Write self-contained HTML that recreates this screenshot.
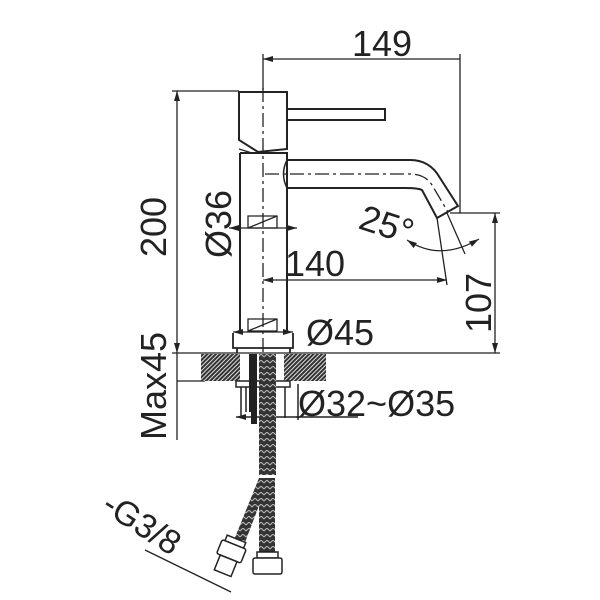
<!DOCTYPE html>
<html><head><style>body{margin:0;background:#fff}svg{display:block}text{font-family:"Liberation Sans",sans-serif;fill:#222}</style></head>
<body>
<svg width="600" height="600" viewBox="0 0 600 600" xmlns="http://www.w3.org/2000/svg">
<defs>
<pattern id="h" width="3" height="3" patternUnits="userSpaceOnUse" patternTransform="rotate(45)"><rect width="3" height="3" fill="#ddd"/><rect width="2" height="3" fill="#333"/></pattern>
<pattern id="b" width="6" height="6" patternUnits="userSpaceOnUse"><rect width="6" height="6" fill="#333"/><path d="M0 3 L3 0 L6 3" stroke="#bbb" stroke-width="1" fill="none"/></pattern>
<marker id="a" markerWidth="10" markerHeight="6" refX="10" refY="3" orient="auto-start-reverse" markerUnits="userSpaceOnUse"><path d="M0 0 L10 3 L0 6z" fill="#222"/></marker>
</defs>
<g stroke="#222" fill="none" stroke-width="1.3">
<line x1="263" y1="54" x2="263" y2="90"/>
<line x1="460" y1="54" x2="460" y2="213"/>
<line x1="263" y1="59" x2="460" y2="59" marker-start="url(#a)"/>
<line x1="172" y1="91" x2="239" y2="91"/>
<line x1="177" y1="91" x2="177" y2="353" marker-start="url(#a)" marker-end="url(#a)"/>
<line x1="177" y1="353" x2="177" y2="440"/>
<line x1="177" y1="381" x2="205" y2="381"/>
<path d="M239 92 H287 V149 L258 152 L239 140 Z" stroke-width="2"/>
<path d="M239 149 L252 153" />
<path d="M287 109 H385 V120 H287" stroke-width="2"/>
<path d="M240 153 H287 V333 M240 153 V333" stroke-width="2"/>
<path d="M287 160 H410 Q430 160 440 178 L458 206 L437 218 L422 190 Q418 188 405 188 H287" stroke-width="2"/>
<path d="M287 160 Q280 174 287 188" stroke-width="1.5"/>
<path d="M265 174 H410 Q425 174 432 185 L448 212" stroke-dasharray="14 4 3 4"/>
<line x1="263" y1="88" x2="263" y2="470" stroke-dasharray="14 4 3 4"/>
<path d="M248 216 H277 V228 H248 Z M248 228 L277 216"/>
<line x1="229" y1="228" x2="297" y2="228" marker-start="url(#a)" marker-end="url(#a)"/>
<line x1="437" y1="218" x2="447" y2="285"/>
<line x1="263" y1="280" x2="447" y2="280" marker-start="url(#a)" marker-end="url(#a)"/>
<line x1="447" y1="213" x2="465" y2="254"/>
<line x1="450" y1="213" x2="500" y2="213"/>
<path d="M407 240 Q440 262 479 239" marker-start="url(#a)" marker-end="url(#a)"/>
<line x1="495" y1="213" x2="495" y2="353" marker-start="url(#a)" marker-end="url(#a)"/>
<path d="M248 319 H277 V331 H248 Z M248 331 L277 319"/>
<path d="M233 332 H293" marker-start="url(#a)" marker-end="url(#a)"/>
<path d="M233 333 V348 H293 V333 M237 348 V353 M290 348 V353" stroke-width="1.8"/>
<line x1="172" y1="353" x2="500" y2="353"/>
</g>
<rect x="201" y="354" width="39" height="27" fill="url(#h)"/>
<rect x="284" y="354" width="42" height="27" fill="url(#h)"/>
<g stroke="#222" fill="none" stroke-width="1.5">
<rect x="236" y="381" width="54" height="6" fill="#fff"/>
<path d="M241 387 V418 M285 387 V418 M246 387 V412"/>
<line x1="236" y1="417" x2="300" y2="417" marker-start="url(#a)"/>
<line x1="296" y1="417" x2="358" y2="417"/>
<line x1="298" y1="384" x2="298" y2="420"/>
</g>
<rect x="249" y="354" width="8" height="58" fill="#222"/>
<rect x="251" y="412" width="6" height="12" fill="#222"/>
<rect x="259" y="354" width="17" height="121" fill="url(#b)"/>
<rect x="259" y="478" width="16" height="74" fill="url(#b)"/>
<polygon points="259,478 268,482 244,545 234,540" fill="url(#b)"/>
<g stroke="#222" fill="#fff" stroke-width="1.5">
<rect x="257" y="552" width="21" height="6"/>
<rect x="253" y="558" width="29" height="16" rx="2"/>
<g transform="rotate(22 232 550)"><rect x="222" y="538" width="20" height="6"/><rect x="219" y="544" width="26" height="15" rx="2"/><rect x="223" y="559" width="18" height="16"/></g>
</g>
<line x1="145" y1="550" x2="231" y2="592" stroke="#222" stroke-width="1.3"/>
<text x="352" y="56" font-size="36">149</text>
<text x="285" y="276" font-size="36">140</text>
<text x="306" y="345" font-size="36">Ø45</text>
<text x="298" y="416" font-size="36">Ø32~Ø35</text>
<text font-size="36" transform="translate(166 257) rotate(-90)">200</text>
<text font-size="36" transform="translate(231 258) rotate(-90)">Ø36</text>
<text font-size="36" transform="translate(491 333) rotate(-90)">107</text>
<text font-size="36" transform="translate(166 440) rotate(-90)">Max45</text>
<text font-size="36" transform="translate(357 228) rotate(18)">25°</text>
<text font-size="34" transform="translate(100 510) rotate(33)">-G3/8</text>
</svg>
</body></html>
